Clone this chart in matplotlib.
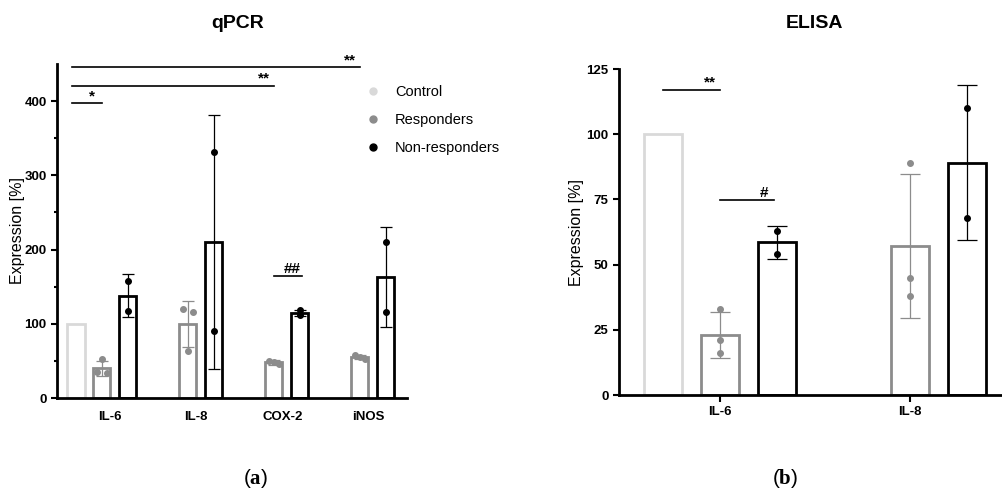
import numpy as np
import matplotlib
matplotlib.use('Agg')
from matplotlib import pyplot as plt
from matplotlib.lines import Line2D

plt.rcParams['font.family'] = ['Liberation Sans', 'DejaVu Sans']
plt.rcParams['mathtext.fontset'] = 'custom'
plt.rcParams['mathtext.rm'] = 'Liberation Serif'
plt.rcParams['mathtext.bf'] = 'Liberation Serif:bold'

# qPCR data
qpcr_genes = ['IL-6', 'IL-8', 'COX-2', 'iNOS']
qpcr_ctrl = [100, None, None, None]
qpcr_resp = [40, 100, 48, 55]
qpcr_resp_sd = [10, 31, 3, 3]
qpcr_non = [138, 210, 115, 163]
qpcr_non_sd = [29, 171, 4, 67]
qpcr_resp_pts = [[35, 52, 34], [120, 63, 116], [50, 48, 46], [58, 55, 53]]
qpcr_non_pts = [[158, 117], [331, 90], [118, 112], [210, 116]]
# (x_start, x_end, y, label)
qpcr_sig = [(-0.34, 0.0, 397, '*'), (-0.34, 2.0, 421, '**'),
            (-0.34, 3.0, 446, '**'), (2.0, 2.33, 165, '##')]

# ELISA data
elisa_genes = ['IL-6', 'IL-8']
elisa_ctrl = [100, None]
elisa_resp = [23, 57]
elisa_resp_sd = [8.7, 27.6]
elisa_non = [58.5, 89]
elisa_non_sd = [6.4, 29.7]
elisa_resp_pts = [[33, 21, 16], [89, 45, 38]]
elisa_non_pts = [[63, 54], [110, 68]]
elisa_sig = [(-0.3, 0.0, 117, '**'), (0.0, 0.285, 74.7, '#')]

c_ctrl = '#d9d9d9'
c_resp = '#8c8c8c'
c_non = '#000000'

fig = plt.figure(figsize=(10.03, 4.9), dpi=100)
ax1 = fig.add_axes([57/1003, 92/490, 350/1003, 334/490])
ax2 = fig.add_axes([619/1003, 95/490, 384/1003, 326/490])


def draw(ax, ctrl, resp, resp_sd, non, non_sd, resp_pts, non_pts, sig,
         off=0.3, w=0.2, jit=0.06, cap=4, elw=0.9):
    x = np.arange(len(resp))
    for i in range(len(resp)):
        if ctrl[i] is not None:
            ax.bar(x[i] - off, ctrl[i], w, facecolor='white', edgecolor=c_ctrl, lw=2, zorder=2)
        ax.bar(x[i], resp[i], w, facecolor='white', edgecolor=c_resp, lw=2, zorder=2)
        ax.bar(x[i] + off, non[i], w, facecolor='white', edgecolor=c_non, lw=2, zorder=2)
        ax.errorbar(x[i], resp[i], yerr=resp_sd[i], color=c_resp, capsize=cap,
                    elinewidth=elw, capthick=elw, zorder=3)
        ax.errorbar(x[i] + off, non[i], yerr=non_sd[i], color=c_non, capsize=cap,
                    elinewidth=elw, capthick=elw, zorder=3)
        p = resp_pts[i]
        dx = (np.arange(len(p)) - (len(p) - 1) / 2) * jit
        ax.plot(x[i] + dx, p, 'o', color=c_resp, ms=4, zorder=4)
        q = non_pts[i]
        ax.plot([x[i] + off] * len(q), q, 'o', color=c_non, ms=4, zorder=4)
    for x0, x1, y, lab in sig:
        ax.plot([x0, x1], [y, y], color='black', lw=1.2, clip_on=False)
        ax.annotate(lab, xy=(x1, y), xytext=(-7, 0), textcoords='offset points',
                    ha='center', va='bottom', fontsize=11, fontweight='bold', annotation_clip=False)
    for s in ['top', 'right']:
        ax.spines[s].set_visible(False)
    for s in ['left', 'bottom']:
        ax.spines[s].set_linewidth(2)
    ax.tick_params(axis='y', width=1.5, length=4, labelsize=9)


draw(ax1, qpcr_ctrl, qpcr_resp, qpcr_resp_sd, qpcr_non, qpcr_non_sd,
     qpcr_resp_pts, qpcr_non_pts, qpcr_sig, cap=4, jit=0.06)
ax1.set_xlim(-0.52, 3.55)
ax1.set_ylim(0, 450)
ax1.set_yticks([0, 100, 200, 300, 400])
ax1.set_yticks(np.arange(50, 450, 100), minor=True)
ax1.tick_params(axis='y', which='minor', width=1.5, length=2.5)
ax1.set_yticklabels(['0', '100', '200', '300', '400'], fontweight='bold', fontsize=9.5)
ax1.set_xticks(np.arange(len(qpcr_genes)) + 0.1)
ax1.set_xticklabels(qpcr_genes, fontweight='bold', fontsize=9.5)
ax1.tick_params(axis='x', length=0, pad=9)

draw(ax2, elisa_ctrl, elisa_resp, elisa_resp_sd, elisa_non, elisa_non_sd,
     elisa_resp_pts, elisa_non_pts, elisa_sig, cap=7, jit=0.0)
ax2.set_xlim(-0.53, 1.49)
ax2.set_ylim(0, 125)
ax2.set_yticks([0, 25, 50, 75, 100, 125])
ax2.set_yticklabels(['0', '25', '50', '75', '100', '125'], fontweight='bold', fontsize=9.5)
ax2.set_xticks(np.arange(len(elisa_genes)))
ax2.set_xticklabels(elisa_genes, fontweight='bold', fontsize=9.5)
ax2.tick_params(axis='x', length=5, width=1.5, pad=3)

handles = [Line2D([], [], ls='', marker='o', ms=5, color=c) for c in (c_ctrl, c_resp, c_non)]
ax1.legend(handles, ['Control', 'Responders', 'Non-responders'], frameon=False,
           fontsize=10.5, loc='upper left', bbox_to_anchor=(366/1003, 1 - 85/490),
           bbox_transform=fig.transFigure, handlelength=1, handletextpad=1.0,
           labelspacing=0.95, borderaxespad=0, borderpad=0)

fig.text(238/1003, 1 - 23/490, 'qPCR', ha='center', va='center', fontsize=14, fontweight='bold')
fig.text(815/1003, 1 - 23/490, 'ELISA', ha='center', va='center', fontsize=14, fontweight='bold')
fig.text(18/1003, 1 - 231/490, 'Expression [%]', rotation=90, ha='center', va='center', fontsize=11.5)
fig.text(577/1003, 1 - 232/490, 'Expression [%]', rotation=90, ha='center', va='center', fontsize=11.5)
fig.text(256/1003, 1 - 478/490, r'($\mathbf{a}$)', ha='center', va='center', fontsize=15)
fig.text(785/1003, 1 - 478/490, r'($\mathbf{b}$)', ha='center', va='center', fontsize=15)

fig.savefig('out.png', dpi=100)
